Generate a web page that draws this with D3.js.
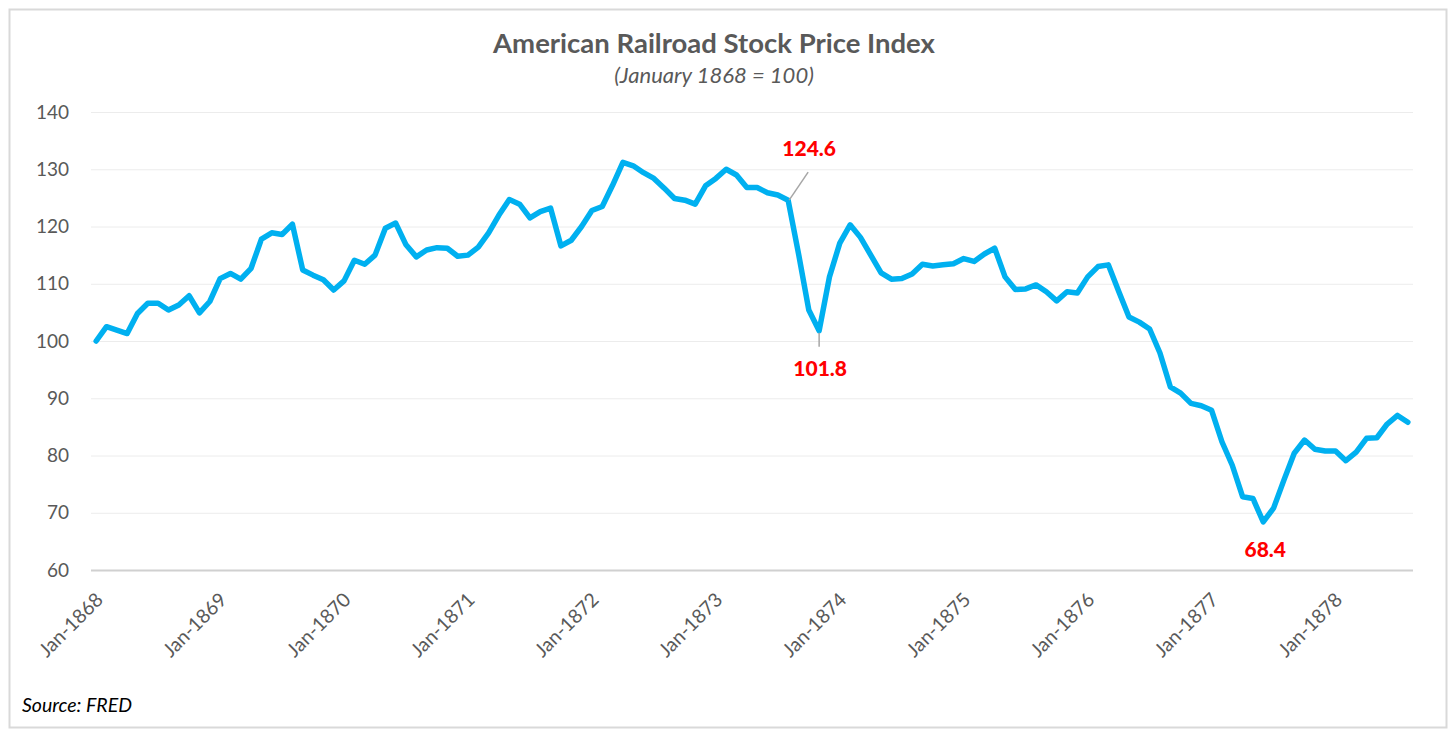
<!DOCTYPE html>
<html><head><meta charset="utf-8">
<script src="https://cdn.jsdelivr.net/npm/d3@7"></script>
<style>
html,body{margin:0;padding:0;background:#fff;}
svg{display:block;font-family:Lato,"Open Sans",sans-serif;}
</style></head><body>
<svg id="chart" width="1456" height="740"></svg>
<script>
const startYear = 1868;
const values1868 = [100, 102.5, 101.9, 101.3, 104.8, 106.6, 106.6, 105.4, 106.3, 107.9, 104.9, 106.9];
const values1869 = [110.9, 111.8, 110.8, 112.7, 117.8, 118.9, 118.6, 120.4, 112.4, 111.5, 110.7, 108.9];
const values1870 = [110.5, 114.1, 113.4, 115.0, 119.7, 120.6, 116.8, 114.7, 115.9, 116.3, 116.2, 114.8];
const values1871 = [115.0, 116.4, 118.9, 122.0, 124.7, 123.9, 121.5, 122.6, 123.2, 116.6, 117.6, 120.0];
const values1872 = [122.8, 123.5, 127.2, 131.2, 130.6, 129.4, 128.4, 126.7, 124.9, 124.6, 123.9, 127.1];
const values1873 = [128.4, 130.0, 129.0, 126.8, 126.8, 125.9, 125.5, 124.6, 115.3, 105.4, 101.8, 111.2];
const values1874 = [117.1, 120.3, 118.1, 115.0, 111.9, 110.8, 110.9, 111.7, 113.4, 113.1, 113.3, 113.5];
const values1875 = [114.4, 113.9, 115.2, 116.2, 111.2, 109.0, 109.1, 109.8, 108.6, 107.0, 108.6, 108.4];
const values1876 = [111.2, 113.0, 113.3, 108.7, 104.2, 103.3, 102.1, 97.9, 92.0, 90.9, 89.1, 88.7];
const values1877 = [87.9, 82.4, 78.3, 72.8, 72.5, 68.4, 70.8, 75.7, 80.4, 82.7, 81.1, 80.8];
const values1878 = [80.8, 79.1, 80.6, 83.0, 83.1, 85.5, 87.0, 85.8];

const yTicks = [60, 70, 80, 90, 100, 110, 120, 130, 140];
const xTickLabels = ["Jan-1868","Jan-1869","Jan-1870","Jan-1871","Jan-1872","Jan-1873","Jan-1874","Jan-1875","Jan-1876","Jan-1877","Jan-1878"];
const annotations = [
  {label: "Aug-1873", value: 124.6},
  {label: "Nov-1873", value: 101.8},
  {label: "Jun-1877", value: 68.4}
];

const monthNames = ["Jan","Feb","Mar","Apr","May","Jun","Jul","Aug","Sep","Oct","Nov","Dec"];
const allValues = [].concat(values1868, values1869, values1870, values1871, values1872, values1873,
  values1874, values1875, values1876, values1877, values1878);
const data = allValues.map((v, i) => ({
  label: monthNames[i % 12] + "-" + (startYear + Math.floor(i / 12)),
  value: v
}));

const svg = d3.select("#chart");
const plot = {left: 91, right: 1413, top: 112, bottom: 570};
const textCol = "#595959";

// border
svg.append("rect").attr("x", 9.5).attr("y", 9.5).attr("width", 1437).attr("height", 718)
  .attr("fill", "#fff").attr("stroke", "#d9d9d9").attr("stroke-width", 2);

const x = d3.scaleBand().domain(data.map(d => d.label)).range([plot.left, plot.right]).padding(0);
const cx = l => x(l) + x.bandwidth() / 2;
const y = d3.scaleLinear().domain([60, 140]).range([plot.bottom, plot.top]);

// gridlines + y labels
const yAxis = d3.axisLeft(y).tickValues(yTicks).tickSize(-(plot.right - plot.left)).tickPadding(22).tickFormat(d3.format("d"));
const gy = svg.append("g").attr("transform", `translate(${plot.left},0)`).call(yAxis);
gy.select(".domain").remove();
gy.selectAll(".tick line").attr("stroke", "#ececec").attr("stroke-width", 1)
  .filter(d => d === 60).attr("stroke", "#d0d0d0").attr("stroke-width", 2);
gy.selectAll(".tick text").attr("fill", textCol).attr("font-size", 19).attr("font-family", "Lato, sans-serif");

// x axis labels
const xAxis = d3.axisBottom(x).tickValues(xTickLabels).tickSize(0).tickPadding(0);
const gx = svg.append("g").attr("transform", `translate(0,${plot.bottom})`).call(xAxis);
gx.select(".domain").remove();
gx.selectAll(".tick text")
  .attr("fill", textCol).attr("font-size", 19.5).attr("font-family", "Lato, sans-serif")
  .attr("text-anchor", "end")
  .attr("transform", "translate(8,31) rotate(-45)")
  .attr("dy", "0");

// line
const line = d3.line().x(d => cx(d.label)).y(d => y(d.value));
svg.append("path").datum(data).attr("d", line)
  .attr("fill", "none").attr("stroke", "#00B0F0").attr("stroke-width", 5.5)
  .attr("stroke-linejoin", "round").attr("stroke-linecap", "round");

// annotations
const a1 = annotations[0], a2 = annotations[1], a3 = annotations[2];
svg.append("line").attr("x1", cx(a1.label)+1).attr("y1", y(a1.value)).attr("x2", cx(a1.label) + 20).attr("y2", y(a1.value) - 28)
  .attr("stroke", "#a6a6a6").attr("stroke-width", 1.5);
svg.append("text").attr("x", cx(a1.label) + 21).attr("y", y(a1.value) - 44)
  .attr("text-anchor", "middle").attr("fill", "#FF0000").attr("font-weight", 900).attr("font-size", 21)
  .text(a1.value.toFixed(1));
svg.append("line").attr("x1", cx(a2.label)).attr("y1", y(a2.value) + 2).attr("x2", cx(a2.label)).attr("y2", y(a2.value) + 16)
  .attr("stroke", "#a6a6a6").attr("stroke-width", 1.5);
svg.append("text").attr("x", cx(a2.label) + 1).attr("y", y(a2.value) + 45)
  .attr("text-anchor", "middle").attr("fill", "#FF0000").attr("font-weight", 900).attr("font-size", 21)
  .text(a2.value.toFixed(1));
svg.append("text").attr("x", cx(a3.label) + 2).attr("y", y(a3.value) + 35)
  .attr("text-anchor", "middle").attr("fill", "#FF0000").attr("font-weight", 900).attr("font-size", 21)
  .text(a3.value.toFixed(1));

// titles
svg.append("text").attr("x", 714).attr("y", 53).attr("text-anchor", "middle")
  .attr("fill", textCol).attr("font-weight", "bold").attr("font-size", 27.5)
  .text("American Railroad Stock Price Index");
svg.append("text").attr("x", 714).attr("y", 83).attr("text-anchor", "middle")
  .attr("fill", textCol).attr("font-style", "italic").attr("font-size", 22)
  .text("(January 1868 = 100)");
svg.append("text").attr("x", 22).attr("y", 712)
  .attr("fill", "#000").attr("font-style", "italic").attr("font-size", 19.5)
  .text("Source: FRED");
</script>
</body></html>
